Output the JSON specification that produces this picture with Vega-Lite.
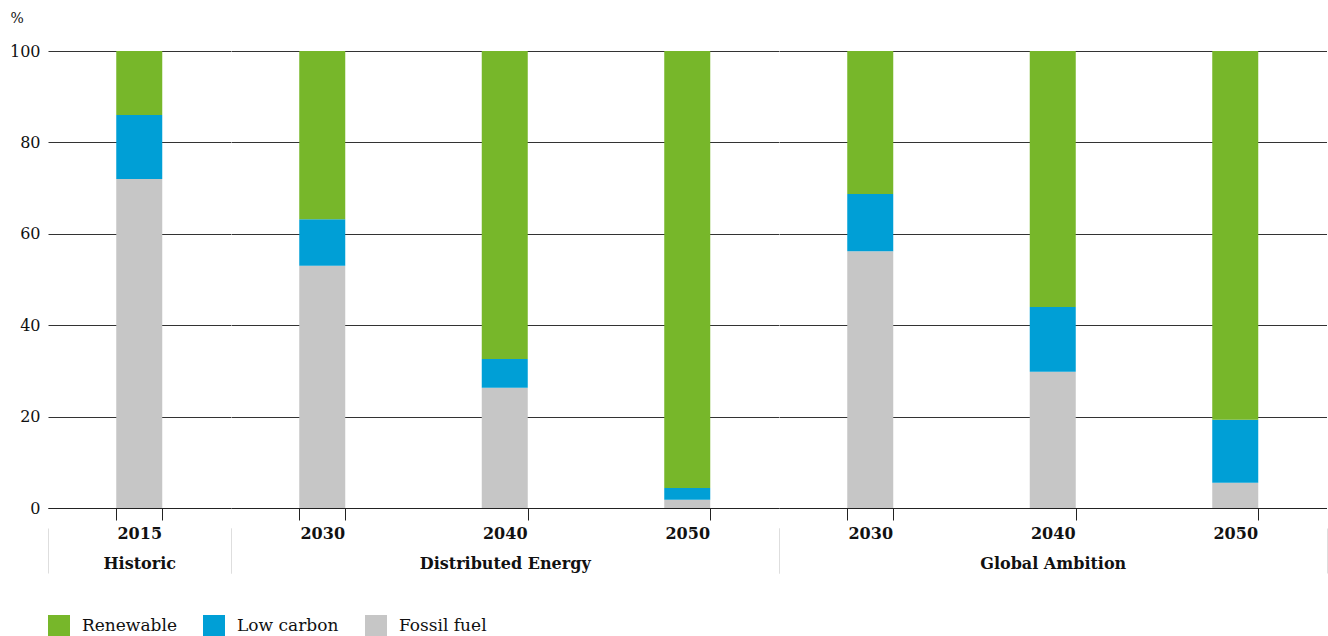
{
  "$schema": "https://vega.github.io/schema/vega-lite/v6.json",
  "padding": {"left": 9, "top": 11, "right": 0, "bottom": 0},
  "config": {
    "view": {"stroke": null},
    "font": "DejaVu Serif",
    "bar": {"width": 46}
  },
  "data": {"values": [
    {"group": "Historic", "year": "2015", "source": "Fossil fuel", "value": 72.0},
    {"group": "Historic", "year": "2015", "source": "Low carbon", "value": 14.0},
    {"group": "Historic", "year": "2015", "source": "Renewable", "value": 14.0},
    {"group": "Distributed Energy", "year": "2030", "source": "Fossil fuel", "value": 53.0},
    {"group": "Distributed Energy", "year": "2030", "source": "Low carbon", "value": 10.2},
    {"group": "Distributed Energy", "year": "2030", "source": "Renewable", "value": 36.8},
    {"group": "Distributed Energy", "year": "2040", "source": "Fossil fuel", "value": 26.3},
    {"group": "Distributed Energy", "year": "2040", "source": "Low carbon", "value": 6.3},
    {"group": "Distributed Energy", "year": "2040", "source": "Renewable", "value": 67.4},
    {"group": "Distributed Energy", "year": "2050", "source": "Fossil fuel", "value": 1.8},
    {"group": "Distributed Energy", "year": "2050", "source": "Low carbon", "value": 2.6},
    {"group": "Distributed Energy", "year": "2050", "source": "Renewable", "value": 95.6},
    {"group": "Global Ambition", "year": "2030", "source": "Fossil fuel", "value": 56.2},
    {"group": "Global Ambition", "year": "2030", "source": "Low carbon", "value": 12.5},
    {"group": "Global Ambition", "year": "2030", "source": "Renewable", "value": 31.3},
    {"group": "Global Ambition", "year": "2040", "source": "Fossil fuel", "value": 29.8},
    {"group": "Global Ambition", "year": "2040", "source": "Low carbon", "value": 14.2},
    {"group": "Global Ambition", "year": "2040", "source": "Renewable", "value": 56.0},
    {"group": "Global Ambition", "year": "2050", "source": "Fossil fuel", "value": 5.5},
    {"group": "Global Ambition", "year": "2050", "source": "Low carbon", "value": 13.8},
    {"group": "Global Ambition", "year": "2050", "source": "Renewable", "value": 80.7}
  ]},
  "spacing": 0,
  "bounds": "flush",
  "resolve": {"scale": {"y": "independent", "color": "shared"}, "legend": {"color": "shared"}},
  "hconcat": [
    {
      "width": 182.5,
      "height": 457,
      "transform": [{"filter": "datum.group === 'Historic'"}],
      "resolve": {"scale": {"x": "independent"}, "axis": {"x": "independent"}},
      "layer": [
        {
          "mark": {"type": "bar"},
          "encoding": {
            "x": {"field": "year", "type": "nominal",
              "scale": {"paddingInner": 0.75, "paddingOuter": 0.375},
              "axis": {"title": "Historic", "labelAngle": 0, "tickBand": "extent", "tickSize": 12, "tickColor": "#222", "domainColor": "#222", "labelPadding": 5, "labelFontSize": 16, "labelFontWeight": "bold", "labelColor": "#111", "titleFontSize": 16, "titleFontWeight": "bold", "titleColor": "#111", "titlePadding": 14}},
            "y": {"field": "value", "type": "quantitative", "stack": "zero",
              "scale": {"domain": [0, 100]},
              "axis": {"title": "%", "values": [0, 20, 40, 60, 80, 100], "grid": true, "gridColor": "#333", "domain": false, "ticks": false, "labelPadding": 8, "labelFontSize": 16, "labelColor": "#111", "titleAngle": 0, "titleAlign": "left", "titleBaseline": "middle", "titleX": -38, "titleY": -33, "titleFontSize": 14, "titleFontWeight": "normal", "titleColor": "#111"}},
            "color": {"field": "source", "type": "nominal",
              "scale": {"domain": ["Renewable", "Low carbon", "Fossil fuel"], "range": ["#77b72a", "#009fd6", "#c6c6c6"]},
              "legend": {"title": null, "orient": "none", "direction": "horizontal", "legendX": 0, "legendY": 564, "symbolType": "square", "symbolSize": 484, "symbolStrokeWidth": 0, "symbolOpacity": 1, "labelFontSize": 17, "labelColor": "#111", "labelOffset": 12, "columnPadding": 26, "labelLimit": 300}},
            "order": {"field": "source", "sort": "ascending"}
          }
        },
        {
          "mark": {"type": "rule", "opacity": 0},
          "encoding": {
            "x": {"field": "group", "type": "nominal",
              "scale": {"type": "band", "paddingInner": 0, "paddingOuter": 0},
              "axis": {"orient": "bottom", "offset": 20, "title": null, "labels": false, "domain": false, "grid": false, "tickBand": "extent", "tickSize": 45, "tickColor": "#dedede"}}
          }
        }
      ]
    },
    {
      "width": 547.5,
      "height": 457,
      "transform": [{"filter": "datum.group === 'Distributed Energy'"}],
      "resolve": {"scale": {"x": "independent"}, "axis": {"x": "independent"}},
      "layer": [
        {
          "mark": {"type": "bar"},
          "encoding": {
            "x": {"field": "year", "type": "nominal",
              "scale": {"paddingInner": 0.75, "paddingOuter": 0.375},
              "axis": {"title": "Distributed Energy", "labelAngle": 0, "tickBand": "extent", "tickSize": 12, "tickColor": "#222", "domainColor": "#222", "labelPadding": 5, "labelFontSize": 16, "labelFontWeight": "bold", "labelColor": "#111", "titleFontSize": 16, "titleFontWeight": "bold", "titleColor": "#111", "titlePadding": 14}},
            "y": {"field": "value", "type": "quantitative", "stack": "zero",
              "scale": {"domain": [0, 100]},
              "axis": {"title": null, "values": [0, 20, 40, 60, 80, 100], "grid": true, "gridColor": "#333", "domain": false, "ticks": false, "labels": false}},
            "color": {"field": "source", "type": "nominal",
              "scale": {"domain": ["Renewable", "Low carbon", "Fossil fuel"], "range": ["#77b72a", "#009fd6", "#c6c6c6"]}},
            "order": {"field": "source", "sort": "ascending"}
          }
        },
        {
          "mark": {"type": "rule", "opacity": 0},
          "encoding": {
            "x": {"field": "group", "type": "nominal",
              "scale": {"type": "band", "paddingInner": 0, "paddingOuter": 0},
              "axis": {"orient": "bottom", "offset": 20, "title": null, "labels": false, "domain": false, "grid": false, "tickBand": "extent", "tickSize": 45, "tickColor": "#dedede"}}
          }
        }
      ]
    },
    {
      "width": 547.5,
      "height": 457,
      "transform": [{"filter": "datum.group === 'Global Ambition'"}],
      "resolve": {"scale": {"x": "independent"}, "axis": {"x": "independent"}},
      "layer": [
        {
          "mark": {"type": "bar"},
          "encoding": {
            "x": {"field": "year", "type": "nominal",
              "scale": {"paddingInner": 0.75, "paddingOuter": 0.375},
              "axis": {"title": "Global Ambition", "labelAngle": 0, "tickBand": "extent", "tickSize": 12, "tickColor": "#222", "domainColor": "#222", "labelPadding": 5, "labelFontSize": 16, "labelFontWeight": "bold", "labelColor": "#111", "titleFontSize": 16, "titleFontWeight": "bold", "titleColor": "#111", "titlePadding": 14}},
            "y": {"field": "value", "type": "quantitative", "stack": "zero",
              "scale": {"domain": [0, 100]},
              "axis": {"title": null, "values": [0, 20, 40, 60, 80, 100], "grid": true, "gridColor": "#333", "domain": false, "ticks": false, "labels": false}},
            "color": {"field": "source", "type": "nominal",
              "scale": {"domain": ["Renewable", "Low carbon", "Fossil fuel"], "range": ["#77b72a", "#009fd6", "#c6c6c6"]}},
            "order": {"field": "source", "sort": "ascending"}
          }
        },
        {
          "mark": {"type": "rule", "opacity": 0},
          "encoding": {
            "x": {"field": "group", "type": "nominal",
              "scale": {"type": "band", "paddingInner": 0, "paddingOuter": 0},
              "axis": {"orient": "bottom", "offset": 20, "title": null, "labels": false, "domain": false, "grid": false, "tickBand": "extent", "tickSize": 45, "tickColor": "#dedede"}}
          }
        }
      ]
    }
  ]
}
